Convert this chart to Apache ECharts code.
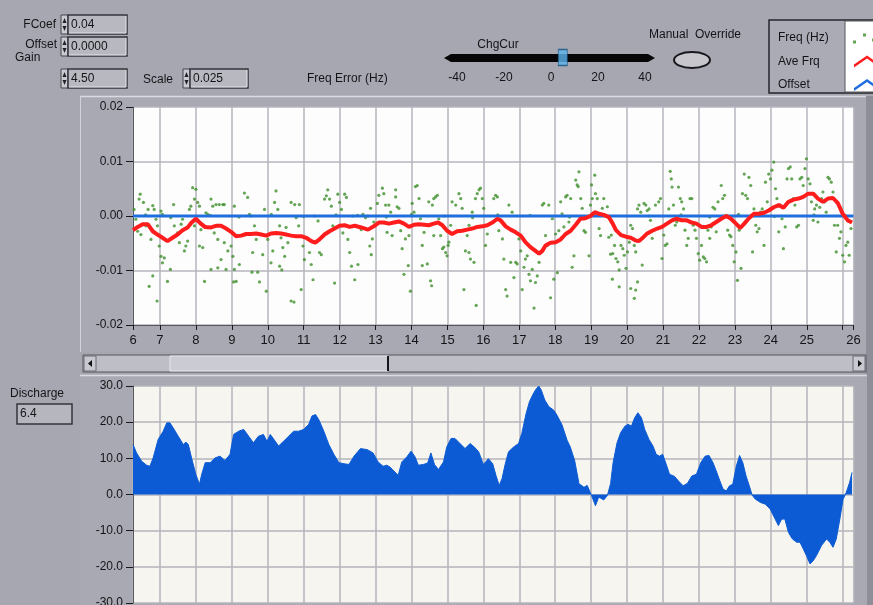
<!DOCTYPE html>
<html>
<head>
<meta charset="utf-8">
<script src="https://cdn.jsdelivr.net/npm/echarts@6/dist/echarts.min.js"></script>
<style>
html,body{margin:0;padding:0;background:#a7a7b1;}
#main{width:873px;height:605px;}
</style>
</head>
<body>
<div id="main"></div>
<script>
// time axis (shared by both plots)
var timeMin = 6.25;
var timeMax = 26.3;

// front panel values
var fcoef = '0.04';
var offsetVal = '0.0000';
var gain = '4.50';
var scaleVal = '0.025';
var dischargeNow = '6.4';
var chgCur = 5;

// Freq (Hz) - raw points [t, Hz]
var freqErr = [
[6.24,0.0018],[6.28,0.0012],[6.45,0.0040],[6.42,0.0031],[6.54,0.0025],[6.33,-0.0006],[6.38,-0.0028],[6.47,-0.0034],[6.61,-0.0018],[6.67,0.0012],
[6.80,0.0019],[6.75,-0.0043],[6.84,0.0012],[6.89,-0.0006],[6.93,-0.0018],[7.03,0.0009],[7.07,0.0003],[6.98,-0.0055],[7.03,-0.0074],[7.07,-0.0086],
[7.12,-0.0077],[6.70,-0.0129],[6.80,-0.0110],[6.92,-0.0156],[7.21,-0.0120],[7.29,-0.0098],[7.38,0.0021],[7.40,-0.0018],[7.49,-0.0031],[7.54,-0.0049],
[7.59,-0.0015],[7.63,-0.0006],[7.72,-0.0055],[7.68,-0.0064],[7.77,-0.0046],[7.82,0.0012],[7.86,0.0018],[7.91,0.0052],[7.96,0.0031],[8.00,0.0049],
[8.05,0.0025],[8.10,0.0018],[7.96,-0.0018],[8.14,-0.0025],[8.10,-0.0055],[8.19,-0.0058],[8.24,-0.0120],[8.28,0.0006],[8.33,0.0003],[8.42,0.0031],
[8.47,0.0018],[8.51,-0.0031],[8.56,0.0021],[8.61,-0.0043],[8.65,0.0021],[8.75,0.0021],[8.79,-0.0049],[8.79,0.0021],[8.70,-0.0080],[8.61,-0.0095],
[8.84,-0.0098],[8.42,-0.0098],[8.89,-0.0064],[8.98,-0.0055],[9.03,-0.0074],[9.07,-0.0098],[9.05,-0.0121],[9.12,-0.0120],[9.21,-0.0089],[9.07,0.0018],
[9.35,0.0042],[9.44,0.0034],[9.49,0.0003],[9.54,0.0000],[9.63,-0.0018],[9.68,-0.0043],[9.58,-0.0067],[9.56,-0.0103],[9.72,-0.0103],[9.77,-0.0121],
[9.86,-0.0071],[9.91,0.0012],[9.96,-0.0138],[10.00,-0.0043],[10.09,-0.0086],[10.14,-0.0064],[10.19,0.0025],[10.23,0.0046],[10.28,0.0012],[10.33,-0.0018],
[10.37,-0.0040],[10.42,-0.0058],[10.33,-0.0092],[10.39,-0.0099],[10.47,-0.0074],[10.51,-0.0021],[10.56,-0.0049],[10.65,-0.0156],[10.73,-0.0158],[10.65,0.0025],
[10.75,0.0021],[10.79,-0.0003],[10.86,-0.0018],[10.88,0.0021],[10.93,-0.0135],[10.98,-0.0055],[11.02,-0.0080],[11.12,-0.0043],[11.16,-0.0067],[11.21,-0.0089],
[11.26,-0.0117],[11.30,0.0000],[11.40,-0.0009],[11.44,-0.0067],[11.49,-0.0071],[11.58,0.0031],[11.63,0.0037],[11.67,0.0048],[11.72,0.0031],[11.77,0.0018],
[11.81,-0.0018],[11.86,-0.0123],[11.95,0.0040],[12.00,0.0025],[12.05,0.0012],[12.09,-0.0031],[12.14,0.0040],[12.19,0.0034],[12.23,-0.0043],[12.28,-0.0067],
[12.33,-0.0092],[12.37,0.0000],[12.42,-0.0117],[12.51,-0.0089],[12.60,-0.0025],[12.65,0.0003],[12.72,-0.0003],[12.79,0.0000],[12.84,-0.0055],[12.88,-0.0071],
[12.86,0.0014],[12.91,-0.0042],[12.95,-0.0011],[13.05,0.0023],[13.09,0.0038],[13.19,0.0051],[13.23,0.0041],[13.28,0.0020],[13.37,0.0020],[13.42,0.0007],
[13.32,-0.0030],[13.46,-0.0036],[13.56,0.0048],[13.56,0.0035],[13.60,0.0017],[13.65,0.0014],[13.70,-0.0027],[13.74,-0.0060],[13.79,-0.0107],[13.83,-0.0042],
[13.93,-0.0036],[13.91,-0.0091],[13.97,-0.0138],[14.02,0.0023],[14.07,0.0007],[14.11,0.0054],[14.16,0.0056],[14.21,0.0032],[14.25,-0.0005],[14.30,-0.0054],
[14.35,-0.0030],[14.30,-0.0091],[14.44,-0.0088],[14.48,0.0026],[14.53,-0.0119],[14.56,-0.0128],[14.58,0.0020],[14.62,0.0032],[14.67,0.0035],[14.72,0.0038],
[14.62,-0.0036],[14.76,-0.0005],[14.81,-0.0036],[14.86,-0.0060],[14.90,-0.0057],[14.95,-0.0067],[14.99,-0.0073],[15.02,-0.0054],[15.04,-0.0048],[15.09,-0.0017],
[15.13,0.0026],[15.23,0.0020],[15.32,0.0041],[15.37,0.0032],[15.41,0.0014],[15.46,-0.0135],[15.50,-0.0064],[15.55,-0.0036],[15.60,-0.0067],[15.64,-0.0079],
[15.60,-0.0017],[15.69,0.0007],[15.74,-0.0085],[15.78,0.0032],[15.83,0.0041],[15.88,0.0048],[15.92,0.0051],[15.97,0.0032],[16.01,0.0014],[15.80,-0.0164],
[16.06,-0.0054],[16.11,-0.0033],[16.29,0.0032],[16.34,0.0038],[16.39,0.0035],[16.43,-0.0027],[16.53,-0.0042],[16.57,-0.0079],[16.62,-0.0135],[16.66,-0.0147],
[16.71,0.0020],[16.76,-0.0085],[16.80,0.0007],[16.85,-0.0113],[16.90,-0.0085],[16.94,-0.0088],[16.99,-0.0042],[17.04,-0.0064],[17.08,-0.0135],[17.13,-0.0094],
[17.17,-0.0079],[17.22,-0.0073],[17.27,-0.0107],[17.31,-0.0119],[17.36,-0.0098],[17.41,-0.0169],[17.45,-0.0122],[17.50,-0.0110],[17.55,-0.0085],[17.64,0.0020],
[17.68,0.0023],[17.73,-0.0036],[17.78,-0.0054],[17.82,0.0020],[17.87,-0.0150],[17.92,-0.0005],[17.96,-0.0116],[18.01,-0.0033],[18.06,-0.0104],[18.10,-0.0027],
[18.15,0.0026],[18.19,0.0004],[18.24,-0.0020],[18.29,0.0035],[18.33,0.0038],[18.38,-0.0011],[18.43,0.0032],[18.47,-0.0094],[18.52,-0.0073],[18.57,0.0066],
[18.61,0.0057],[18.64,0.0054],[18.66,0.0081],[18.71,0.0032],[18.75,0.0014],[18.80,-0.0027],[18.84,-0.0030],[18.94,-0.0073],[18.98,0.0020],[19.01,0.0057],
[19.03,0.0032],[19.10,0.0075],[19.12,0.0041],[19.17,0.0032],[19.22,-0.0023],[19.26,-0.0036],[19.31,0.0014],[19.35,0.0032],[19.40,0.0001],[19.45,0.0017],
[19.49,-0.0039],[19.54,-0.0070],[19.59,-0.0116],
[19.56,-0.0035],[19.60,-0.0069],[19.65,-0.0054],[19.69,-0.0078],[19.74,-0.0084],[19.78,-0.0099],[19.83,-0.0054],[19.88,-0.0060],[19.92,-0.0072],[19.97,-0.0096],
[20.01,-0.0066],[20.06,-0.0048],[20.10,-0.0017],[20.15,-0.0023],[20.20,-0.0054],[20.24,-0.0066],[20.29,0.0013],[20.33,0.0020],[20.38,0.0007],[20.42,-0.0090],
[20.47,0.0023],[20.52,0.0020],[20.56,0.0010],[20.61,0.0013],[20.65,-0.0008],[20.70,-0.0041],[20.74,-0.0026],[20.79,0.0020],[20.88,0.0026],[20.93,0.0032],
[20.97,-0.0078],[21.02,-0.0035],[21.06,-0.0054],[21.11,-0.0051],[21.16,0.0013],[21.20,0.0082],[21.23,0.0068],[21.25,0.0053],[21.29,0.0020],[21.34,-0.0017],
[21.38,-0.0011],[21.43,0.0053],[21.48,0.0032],[21.52,0.0026],[21.57,0.0013],[21.61,-0.0026],[21.66,-0.0054],[21.70,-0.0041],[21.75,0.0032],[21.80,0.0032],
[21.84,-0.0017],[21.89,-0.0026],[21.93,-0.0041],[21.98,-0.0069],[22.02,-0.0081],[22.07,-0.0054],[22.12,-0.0075],[22.16,-0.0078],[22.21,-0.0084],[22.25,-0.0026],
[22.30,-0.0041],[22.34,-0.0020],[22.39,0.0016],[22.44,0.0013],[22.48,-0.0029],[22.53,0.0026],[22.62,0.0056],[22.66,0.0032],[22.71,0.0038],[22.76,0.0001],
[22.80,-0.0026],[22.85,-0.0035],[22.89,-0.0038],[22.94,-0.0054],[22.98,-0.0084],[23.03,-0.0066],[23.07,-0.0118],[23.12,-0.0026],[23.17,-0.0096],[23.21,0.0041],
[23.26,0.0077],[23.30,0.0038],[23.35,0.0032],[23.39,0.0071],[23.44,0.0056],[23.49,-0.0066],[23.53,0.0013],[23.58,-0.0017],[23.62,-0.0029],[23.67,-0.0023],
[23.71,0.0007],[23.76,0.0013],[23.81,-0.0054],[23.85,0.0062],[23.90,0.0026],[23.94,0.0077],[23.99,0.0068],[24.03,0.0084],[24.08,0.0099],[24.13,0.0050],
[24.17,0.0032],[24.22,-0.0029],[24.26,0.0020],[24.31,-0.0005],[24.35,-0.0060],[24.40,-0.0020],[24.45,0.0068],[24.49,0.0087],[24.54,0.0090],[24.58,0.0068],
[24.63,0.0032],[24.67,0.0020],[24.72,-0.0020],[24.77,-0.0017],[24.81,0.0068],[24.86,0.0071],[24.90,0.0056],[24.95,0.0087],[24.99,0.0105],[25.04,0.0068],
[25.09,0.0059],[25.13,0.0026],[25.18,-0.0008],[25.22,0.0013],[25.27,0.0020],[25.31,-0.0011],[25.36,0.0016],[25.41,0.0032],[25.45,0.0044],[25.50,0.0026],
[25.54,0.0007],[25.59,0.0071],[25.63,0.0068],[25.68,0.0062],[25.73,0.0044],[25.77,-0.0017],[25.82,-0.0066],[25.86,-0.0017],[25.91,-0.0041],[25.95,-0.0029],
[26.00,-0.0072],[26.05,-0.0084],[26.09,-0.0054],[26.14,-0.0048],[26.18,-0.0072],[26.23,-0.0023],[19.78,-0.0130],[20.10,-0.0133],[20.20,-0.0151],[20.29,-0.0121],
[20.24,-0.0136],
[6.60,0.0002],[7.30,-0.0003],[8.40,0.0001],[9.20,-0.0002],[10.10,0.0003],[11.00,-0.0001],[11.90,0.0002],[12.50,0.0001],[13.30,-0.0002],[14.00,0.0003],
[14.90,0.0000],[15.70,-0.0003],[16.40,0.0002],[17.30,0.0001],[18.40,-0.0002],[19.30,0.0003],[20.60,0.0000],[21.50,0.0002],[22.30,-0.0002],[23.10,0.0003],
[24.10,-0.0001],[25.20,0.0002],[26.10,0.0000]
];

// Ave Frq [t, Hz]
var aveFrq = [
[6.25,-0.0026],[6.38,-0.0020],[6.52,-0.0015],[6.66,-0.0015],[6.80,-0.0028],[6.93,-0.0034],[7.07,-0.0040],[7.21,-0.0046],[7.35,-0.0040],[7.49,-0.0034],
[7.63,-0.0026],[7.77,-0.0021],[7.88,-0.0012],[8.00,-0.0005],[8.12,-0.0013],[8.25,-0.0020],[8.42,-0.0021],[8.56,-0.0018],[8.70,-0.0018],[8.84,-0.0023],
[8.98,-0.0029],[9.12,-0.0037],[9.26,-0.0036],[9.40,-0.0033],[9.54,-0.0033],[9.68,-0.0032],[9.82,-0.0034],[9.96,-0.0036],[10.09,-0.0032],[10.23,-0.0031],
[10.37,-0.0032],[10.51,-0.0034],[10.65,-0.0036],[10.79,-0.0037],[10.93,-0.0037],[11.07,-0.0040],[11.21,-0.0046],[11.32,-0.0049],[11.44,-0.0043],[11.58,-0.0034],
[11.72,-0.0028],[11.86,-0.0023],[12.00,-0.0018],[12.14,-0.0017],[12.28,-0.0020],[12.42,-0.0018],[12.60,-0.0021],[12.79,-0.0025],[12.95,-0.0019],[13.09,-0.0012],
[13.23,-0.0012],[13.37,-0.0014],[13.51,-0.0012],[13.65,-0.0010],[13.79,-0.0014],[13.93,-0.0020],[14.07,-0.0016],[14.21,-0.0015],[14.35,-0.0016],[14.48,-0.0017],
[14.62,-0.0014],[14.74,-0.0012],[14.86,-0.0017],[14.99,-0.0027],[15.13,-0.0033],[15.27,-0.0028],[15.41,-0.0027],[15.55,-0.0025],[15.69,-0.0023],[15.83,-0.0020],
[15.97,-0.0019],[16.11,-0.0017],[16.25,-0.0012],[16.39,-0.0005],[16.48,-0.0008],[16.62,-0.0019],[16.76,-0.0025],[16.90,-0.0030],[17.04,-0.0036],[17.17,-0.0048],
[17.31,-0.0057],[17.45,-0.0064],[17.55,-0.0069],[17.64,-0.0064],[17.73,-0.0054],[17.87,-0.0049],[18.01,-0.0048],[18.15,-0.0043],[18.29,-0.0033],[18.43,-0.0027],
[18.57,-0.0016],[18.70,-0.0005],[18.84,-0.0004],[18.98,0.0000],[19.10,0.0007],[19.22,0.0004],[19.35,0.0002],[19.49,-0.0002],[19.60,-0.0014],[19.69,-0.0026],
[19.83,-0.0035],[19.97,-0.0038],[20.10,-0.0040],[20.24,-0.0045],[20.33,-0.0046],[20.42,-0.0041],[20.56,-0.0032],[20.70,-0.0027],[20.84,-0.0023],[20.97,-0.0020],
[21.11,-0.0014],[21.25,-0.0008],[21.38,-0.0005],[21.52,-0.0008],[21.66,-0.0008],[21.80,-0.0012],[21.93,-0.0014],[22.07,-0.0020],[22.21,-0.0020],[22.34,-0.0017],
[22.48,-0.0011],[22.62,-0.0005],[22.76,0.0000],[22.89,-0.0005],[23.03,-0.0014],[23.15,-0.0022],[23.26,-0.0014],[23.39,-0.0004],[23.53,0.0004],[23.67,0.0004],
[23.81,0.0006],[23.94,0.0010],[24.08,0.0016],[24.22,0.0020],[24.35,0.0015],[24.49,0.0026],[24.63,0.0030],[24.77,0.0032],[24.90,0.0035],[25.04,0.0041],
[25.18,0.0041],[25.31,0.0032],[25.45,0.0026],[25.59,0.0032],[25.73,0.0033],[25.87,0.0023],[26.00,0.0004],[26.14,-0.0008],[26.26,-0.0012]
];

// Offset [t, Hz]
var offsetLine = [[6.25,0],[26.3,0]];

// Discharge [t, value]
var discharge = [
[6.25,13.8],[6.35,11.5],[6.49,9.2],[6.63,8.1],[6.72,7.8],[6.81,10.1],[6.95,15.2],[7.09,17.5],[7.19,19.8],[7.28,19.8],
[7.37,18.4],[7.51,16.1],[7.65,13.8],[7.72,14.5],[7.79,13.8],[7.88,10.1],[8.00,5.5],[8.10,2.8],[8.16,5.5],[8.26,8.8],
[8.40,8.8],[8.53,10.1],[8.67,10.6],[8.81,9.4],[8.95,11.1],[9.05,16.6],[9.19,17.5],[9.33,18.0],[9.47,16.1],[9.60,14.3],
[9.74,16.1],[9.88,16.6],[9.98,14.7],[10.07,16.6],[10.21,14.7],[10.30,13.4],[10.44,14.7],[10.58,16.1],[10.72,17.5],[10.86,17.5],
[11.00,18.0],[11.14,19.4],[11.23,21.7],[11.33,22.1],[11.42,20.7],[11.56,17.5],[11.70,13.8],[11.84,11.1],[11.98,8.8],[12.12,8.5],
[12.26,8.3],[12.40,10.6],[12.58,12.7],[12.77,12.4],[12.93,11.5],[13.07,9.0],[13.21,7.8],[13.31,8.1],[13.40,7.6],[13.49,6.7],
[13.63,5.3],[13.73,9.0],[13.87,10.4],[13.99,12.0],[14.10,10.4],[14.19,8.1],[14.33,8.3],[14.45,8.7],[14.54,11.5],[14.64,8.3],
[14.75,6.9],[14.89,9.0],[14.98,13.1],[15.10,15.5],[15.21,15.5],[15.35,14.1],[15.49,12.7],[15.63,14.1],[15.75,13.1],[15.87,11.8],
[16.00,8.3],[16.14,9.9],[16.26,8.5],[16.35,5.3],[16.44,2.5],[16.52,4.4],[16.61,8.5],[16.70,11.8],[16.84,13.1],[16.98,14.1],
[17.07,16.9],[17.19,22.4],[17.28,25.6],[17.37,27.5],[17.45,28.9],[17.54,30.0],[17.61,28.9],[17.71,26.1],[17.82,24.3],[17.96,23.3],
[18.05,21.9],[18.19,19.2],[18.33,15.0],[18.42,13.1],[18.54,9.4],[18.66,3.0],[18.80,2.0],[18.89,2.5],[19.01,-0.3],[19.12,-3.1],
[19.21,-0.7],[19.35,-1.5],[19.45,-0.3],[19.54,3.0],[19.61,8.8],[19.72,14.3],[19.82,17.1],[19.94,18.9],[20.03,19.4],[20.12,18.9],
[20.21,21.2],[20.30,22.6],[20.40,21.2],[20.49,18.0],[20.61,15.2],[20.72,13.4],[20.81,11.1],[20.90,10.6],[20.99,11.1],[21.09,8.3],
[21.18,5.6],[21.32,5.0],[21.45,3.5],[21.56,2.4],[21.68,3.1],[21.80,5.1],[21.93,5.6],[22.05,8.8],[22.17,10.6],[22.28,10.8],
[22.39,8.8],[22.48,6.5],[22.58,3.8],[22.67,1.5],[22.76,1.0],[22.85,2.4],[22.94,2.8],[23.04,7.9],[23.13,10.8],[23.22,8.8],
[23.31,5.1],[23.40,2.4],[23.48,-0.2],[23.57,-1.3],[23.71,-2.2],[23.85,-2.7],[23.98,-4.0],[24.12,-6.8],[24.21,-8.6],[24.30,-6.8],
[24.39,-6.8],[24.49,-10.5],[24.60,-12.3],[24.72,-13.2],[24.81,-13.2],[24.90,-15.0],[24.99,-16.9],[25.09,-19.2],[25.18,-18.3],[25.27,-16.9],
[25.41,-14.1],[25.55,-12.3],[25.64,-13.2],[25.73,-14.6],[25.82,-12.3],[25.92,-6.8],[26.01,-1.3],[26.10,0.6],[26.19,3.3],[26.26,6.1]
];

var uiFont = '12px "Liberation Sans", Arial, sans-serif';

function label(x, y, text, align) {
	return {type: 'text', z: 2, style: {text: text, x: x, y: y, font: uiFont, fill: '#141418', align: align || 'left', verticalAlign: 'middle'}};
}

// LabVIEW style numeric control: up/down spinner + inset box
function spinBox(x, y, w, text) {
	return [
		{type: 'rect', z: 1, shape: {x: x, y: y, width: 7, height: 19}, style: {fill: '#cacad2', stroke: '#45454d', lineWidth: 1}},
		{type: 'polygon', z: 2, shape: {points: [[x + 1.5, y + 8], [x + 3.5, y + 3], [x + 5.5, y + 8]]}, style: {fill: '#202024'}},
		{type: 'polygon', z: 2, shape: {points: [[x + 1.5, y + 11], [x + 3.5, y + 16], [x + 5.5, y + 11]]}, style: {fill: '#202024'}},
		{type: 'rect', z: 1, shape: {x: x + 7, y: y, width: w, height: 19}, style: {fill: '#b8b8c0', stroke: '#34343c', lineWidth: 1.5}},
		{type: 'polyline', z: 2, shape: {points: [[x + 8, y + 18], [x + 6 + w, y + 18], [x + 6 + w, y + 1]]}, style: {stroke: '#e4e4ea', lineWidth: 1}},
		{type: 'text', z: 2, style: {text: text, x: x + 10, y: y + 10, font: uiFont, fill: '#141418', verticalAlign: 'middle'}}
	];
}

var panel = [
	// top graph panel
	{type: 'rect', z: -1, shape: {x: 80, y: 96, width: 787, height: 256}, style: {fill: '#a9a9b3'}},
	{type: 'line', z: -1, shape: {x1: 80, y1: 96.5, x2: 867, y2: 96.5}, style: {stroke: '#dadae2', lineWidth: 1.5}},
	{type: 'line', z: -1, shape: {x1: 80.5, y1: 96, x2: 80.5, y2: 352}, style: {stroke: '#d2d2da', lineWidth: 1}},
	{type: 'rect', z: -1, shape: {x: 866, y: 96, width: 7, height: 509}, style: {fill: '#8e8e98'}},
	// scroll bar
	{type: 'rect', z: 1, shape: {x: 83, y: 355, width: 783, height: 17}, style: {fill: '#bebec7', stroke: '#55555d', lineWidth: 1}},
	{type: 'rect', z: 1, shape: {x: 84, y: 356, width: 12, height: 15}, style: {fill: '#c8c8d0', stroke: '#6a6a72', lineWidth: 1}},
	{type: 'polygon', z: 2, shape: {points: [[88, 363.5], [92, 360], [92, 367]]}, style: {fill: '#111'}},
	{type: 'rect', z: 1, shape: {x: 853, y: 356, width: 12, height: 15}, style: {fill: '#c8c8d0', stroke: '#6a6a72', lineWidth: 1}},
	{type: 'polygon', z: 2, shape: {points: [[862, 363.5], [858, 360], [858, 367]]}, style: {fill: '#111'}},
	{type: 'rect', z: 1, shape: {x: 170, y: 356, width: 218, height: 15}, style: {fill: '#cbcbd3', stroke: '#e6e6ec', lineWidth: 1}},
	{type: 'line', z: 2, shape: {x1: 388, y1: 356, x2: 388, y2: 371}, style: {stroke: '#15151a', lineWidth: 2}},
	// bottom graph panel
	{type: 'rect', z: -1, shape: {x: 80, y: 375, width: 787, height: 235}, style: {fill: '#a9a9b3'}},
	{type: 'line', z: -1, shape: {x1: 80, y1: 375.5, x2: 867, y2: 375.5}, style: {stroke: '#dadae2', lineWidth: 1.5}},
	// discharge indicator
	label(10, 394, 'Discharge'),
	{type: 'rect', z: 1, shape: {x: 17, y: 404, width: 55, height: 20}, style: {fill: '#b6b6be', stroke: '#34343c', lineWidth: 1.5}},
	{type: 'text', z: 2, style: {text: dischargeNow, x: 20, y: 414, font: uiFont, fill: '#141418', verticalAlign: 'middle'}},
	// controls
	label(56, 25, 'FCoef', 'right'),
	label(57, 45, 'Offset', 'right'),
	label(15, 58, 'Gain'),
	label(143, 80, 'Scale'),
	label(307, 79, 'Freq Error (Hz)'),
	// ChgCur slider
	label(498, 45, 'ChgCur', 'center'),
	{type: 'rect', z: 1, shape: {x: 451, y: 54, width: 197, height: 8}, style: {fill: '#060608'}},
	{type: 'polygon', z: 1, shape: {points: [[444, 58], [451, 54], [451, 62]]}, style: {fill: '#060608'}},
	{type: 'polygon', z: 1, shape: {points: [[655, 58], [648, 54], [648, 62]]}, style: {fill: '#060608'}},
	// manual override button
	label(649, 35, 'Manual  Override'),
	{type: 'ellipse', z: 1, shape: {cx: 692, cy: 60, rx: 18, ry: 8}, style: {fill: '#c6c6cc', stroke: '#18181c', lineWidth: 2}},
	// legend frame
	{type: 'rect', z: 1, shape: {x: 769, y: 20, width: 110, height: 73}, style: {fill: '#ababb5', stroke: '#26262c', lineWidth: 1.5}},
	{type: 'rect', z: 2, shape: {x: 845, y: 21, width: 30, height: 71}, style: {fill: '#ffffff', stroke: '#56565e', lineWidth: 1}}
];
var elements = panel
	.concat(spinBox(61, 15, 59, fcoef))
	.concat(spinBox(61, 37, 59, offsetVal))
	.concat(spinBox(61, 69, 59, gain))
	.concat(spinBox(183, 69, 58, scaleVal));

function freqLabel(v) {
	if (Math.abs(v) < 1e-9) return '0.00';
	return v.toFixed(2);
}

var option = {
	backgroundColor: '#a7a7b1',
	animation: false,
	textStyle: {fontFamily: '"Liberation Sans", Arial, sans-serif'},
	legend: {
		orient: 'vertical',
		left: 773,
		top: 27,
		itemGap: 11.5,
		itemWidth: 28,
		itemHeight: 12,
		itemTextGap: 2,
		align: 'right',
		selectedMode: false,
		formatter: '{a|{name}}',
		textStyle: {
			color: '#141418', fontSize: 12,
			rich: {a: {width: 70, align: 'left', color: '#141418', fontSize: 12}}
		},
		data: [
			{name: 'Freq (Hz)', icon: 'path://M3,8h3v3h-3zM13,1h3v3h-3zM22,6h3v3h-3zM28,0h3v3h-3z'},
			{name: 'Ave Frq', icon: 'path://M3,12L16,3L29,12L29,15L16,6L3,15Z'},
			{name: 'Offset', icon: 'path://M3,12L16,3L29,12L29,15L16,6L3,15Z'}
		]
	},
	grid: [
		{left: 133, top: 107, width: 720.5, height: 218, show: true, backgroundColor: '#fdfdfd', borderWidth: 0, containLabel: false, outerBoundsMode: 'none'},
		{left: 133, top: 386, width: 720.5, height: 217, show: true, backgroundColor: '#f6f5ef', borderWidth: 0, containLabel: false, outerBoundsMode: 'none'},
		{left: 457, top: 53, width: 188, height: 9, show: false, containLabel: false, outerBoundsMode: 'none'}
	],
	xAxis: [
		{
			gridIndex: 0, type: 'value', min: timeMin, max: timeMax,
			splitNumber: 20, minInterval: 1, maxInterval: 1,
			axisLine: {show: true, onZero: false, lineStyle: {color: '#55555d', width: 1}},
			axisTick: {show: true, length: 5, lineStyle: {color: '#1a1a1e'}},
			axisLabel: {
				show: true, showMinLabel: true, showMaxLabel: true, margin: 9,
				color: '#141418', fontSize: 13,
				formatter: function (v) {
					if (v === 26) return '';
					return String(Math.round(v));
				}
			},
			splitLine: {show: true, lineStyle: {color: '#b5b5bd', width: 1.5}}
		},
		{
			gridIndex: 1, type: 'value', min: timeMin, max: timeMax,
			splitNumber: 20, minInterval: 1, maxInterval: 1,
			axisLine: {show: false}, axisTick: {show: false}, axisLabel: {show: false},
			splitLine: {show: true, lineStyle: {color: '#b5b5bd', width: 1.5}}
		},
		{
			gridIndex: 2, type: 'value', min: -40, max: 40, interval: 20, offset: 6,
			axisLine: {show: false},
			axisTick: {show: true, length: 4, lineStyle: {color: '#141418'}},
			axisLabel: {color: '#141418', fontSize: 12, margin: 4},
			splitLine: {show: false}
		}
	],
	yAxis: [
		{
			gridIndex: 0, type: 'value', min: -0.02, max: 0.02, interval: 0.01,
			axisLine: {show: true, lineStyle: {color: '#55555d'}},
			axisTick: {show: true, length: 7, lineStyle: {color: '#1a1a1e'}},
			axisLabel: {color: '#141418', fontSize: 12, margin: 10, formatter: freqLabel},
			splitLine: {show: true, lineStyle: {color: '#b5b5bd', width: 1.5}}
		},
		{
			gridIndex: 1, type: 'value', min: -30, max: 30, interval: 10,
			axisLine: {show: true, lineStyle: {color: '#55555d'}},
			axisTick: {show: true, length: 7, lineStyle: {color: '#1a1a1e'}},
			axisLabel: {color: '#141418', fontSize: 12, margin: 10, formatter: function (v) { return v.toFixed(1); }},
			splitLine: {show: true, lineStyle: {color: '#b5b5bd', width: 1.5}}
		},
		{gridIndex: 2, type: 'value', min: -1, max: 1, show: false}
	],
	series: [
		{
			name: 'Freq (Hz)', type: 'scatter', xAxisIndex: 0, yAxisIndex: 0,
			data: freqErr, symbol: 'circle', symbolSize: 3.2,
			itemStyle: {color: '#3f8f2c'}, z: 2
		},
		{
			name: 'Offset', type: 'line', xAxisIndex: 0, yAxisIndex: 0,
			data: offsetLine, symbol: 'none',
			lineStyle: {color: '#1f6ee0', width: 3}, itemStyle: {color: '#1f6ee0'}, z: 3
		},
		{
			name: 'Ave Frq', type: 'line', xAxisIndex: 0, yAxisIndex: 0,
			data: aveFrq, symbol: 'none',
			lineStyle: {color: '#ff1c1c', width: 4}, itemStyle: {color: '#ff1c1c'}, z: 4
		},
		{
			name: 'Discharge', type: 'line', xAxisIndex: 1, yAxisIndex: 1,
			data: discharge, symbol: 'none',
			lineStyle: {color: '#0c5bd4', width: 1},
			areaStyle: {color: '#0c5bd4', opacity: 1, origin: 0},
			itemStyle: {color: '#0c5bd4'}, z: 2
		},
		{
			name: 'ChgCur', type: 'scatter', xAxisIndex: 2, yAxisIndex: 2,
			data: [[chgCur, 0]], symbol: 'rect', symbolSize: [9, 16],
			itemStyle: {color: '#5cb4ee', borderColor: '#16507f', borderWidth: 1}, z: 5
		}
	],
	graphic: elements
};

var myChart = echarts.init(document.getElementById('main'));
myChart.setOption(option, true);
</script>
</body>
</html>
